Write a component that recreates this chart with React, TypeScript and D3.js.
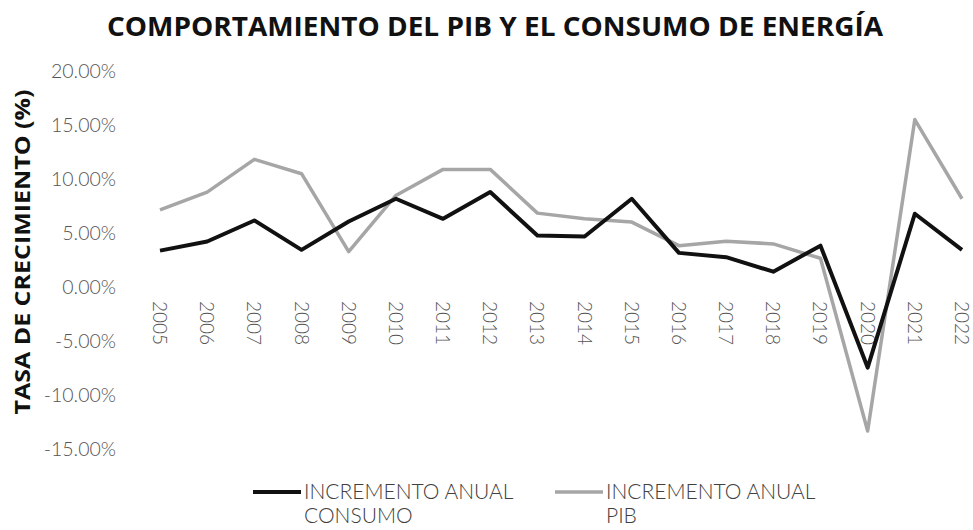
import React from 'react';
import * as d3 from 'd3';

// values (annual growth, %)
const years = ['2005', '2006', '2007', '2008', '2009', '2010', '2011', '2012', '2013', '2014', '2015', '2016', '2017', '2018', '2019', '2020', '2021', '2022'];
const consumo = [3.37, 4.21, 6.16, 3.44, 6.06, 8.17, 6.31, 8.79, 4.76, 4.67, 8.17, 3.16, 2.76, 1.42, 3.83, -7.46, 6.78, 3.44];
const pib = [7.15, 8.79, 11.82, 10.49, 3.28, 8.48, 10.89, 10.89, 6.84, 6.31, 6.01, 3.83, 4.24, 3.99, 2.66, -13.34, 15.5, 8.17];
const yTicks = [20, 15, 10, 5, 0, -5, -10, -15];

const W = 973;
const H = 530;
const LIGHT = 'Lato, "Open Sans", sans-serif';
const BOLD = '"Open Sans", sans-serif';

const App = () => {
  // Scales
  const x = d3.scalePoint<string>().domain(years).range([160, 962]);
  const y = d3.scaleLinear().domain([-15, 20]).range([449, 71]);

  const line = d3.line<number>()
    .x((_, i) => x(years[i]) as number)
    .y(d => y(d));

  const fmt = (v: number) => `${v.toFixed(2)}%`;

  return (
    <svg width={W} height={H} style={{ position: 'absolute', left: 0, top: 0, background: '#fff' }}>
      {/* Title */}
      <text x={495} y={36} textAnchor="middle" fontFamily={BOLD} fontWeight={700} fontSize={27}
        fill="#111" textLength={776} lengthAdjust="spacingAndGlyphs">
        COMPORTAMIENTO DEL PIB Y EL CONSUMO DE ENERGÍA
      </text>

      {/* Y axis title */}
      <text transform="translate(30,252) rotate(-90)" textAnchor="middle" fontFamily={BOLD}
        fontWeight={700} fontSize={21} fill="#111" textLength={325} lengthAdjust="spacingAndGlyphs">
        TASA DE CRECIMIENTO (%)
      </text>

      {/* Y tick labels */}
      {yTicks.map(t => (
        <text key={t} x={116} y={y(t)} dy="0.36em" textAnchor="end" fontFamily={LIGHT}
          fontWeight={300} fontSize={19.5} fill="#555">
          {fmt(t)}
        </text>
      ))}

      {/* Year labels, rotated */}
      {years.map(yr => (
        <text key={yr} transform={`translate(${(x(yr) as number) - 7},301) rotate(90)`} textAnchor="start"
          fontFamily={LIGHT} fontWeight={300} fontSize={19} fill="#555">
          {yr}
        </text>
      ))}

      {/* Series */}
      <path d={line(pib) || ''} fill="none" stroke="#a6a6a6" strokeWidth={3.5} strokeLinejoin="round" />
      <path d={line(consumo) || ''} fill="none" stroke="#111" strokeWidth={4} strokeLinejoin="round" />

      {/* Legend */}
      <line x1={253} x2={301} y1={492} y2={492} stroke="#111" strokeWidth={4} />
      <text fontFamily={LIGHT} fontWeight={300} fontSize={21} fill="#404040">
        <tspan x={304} y={499}>INCREMENTO ANUAL</tspan>
        <tspan x={304} y={523}>CONSUMO</tspan>
      </text>
      <line x1={555} x2={603} y1={492} y2={492} stroke="#a6a6a6" strokeWidth={3.5} />
      <text fontFamily={LIGHT} fontWeight={300} fontSize={21} fill="#404040">
        <tspan x={606} y={499}>INCREMENTO ANUAL</tspan>
        <tspan x={606} y={523}>PIB</tspan>
      </text>
    </svg>
  );
};

export default App;
